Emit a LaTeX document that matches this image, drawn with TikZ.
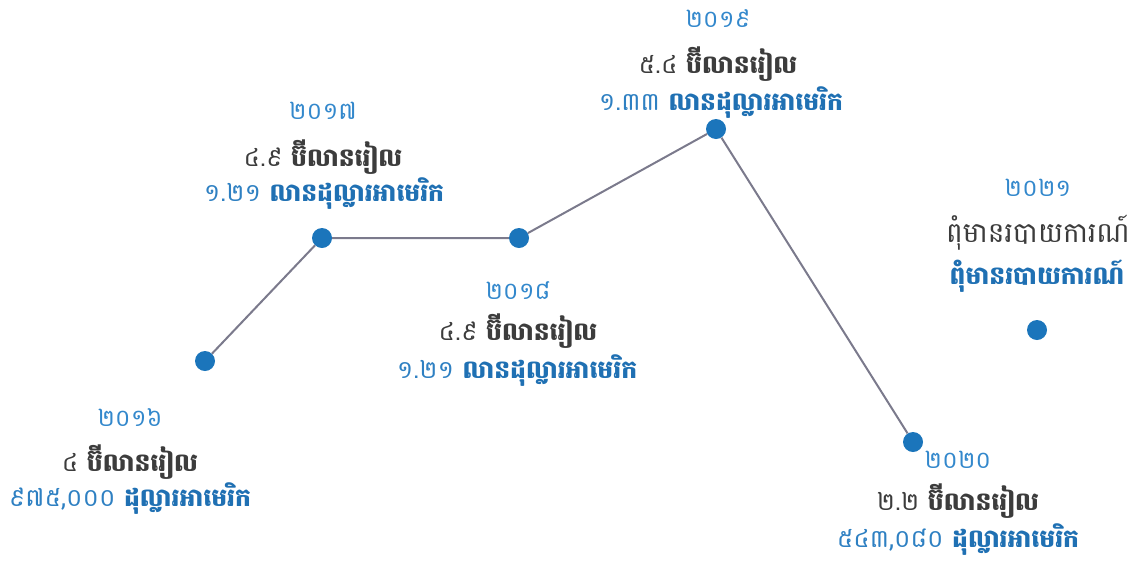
\documentclass[tikz,border=0pt]{standalone}
\usepackage{fontspec}
\newfontfamily\khmer[Script=Khmer]{Battambang}
\usepackage{xcolor}
\definecolor{dotblue}{HTML}{1B75BB}
\definecolor{yearblue}{HTML}{3388CC}
\definecolor{numblue}{HTML}{2E80C2}
\definecolor{wordblue}{HTML}{1F70B3}
\definecolor{txtgray}{HTML}{3C3C3C}
\definecolor{linegray}{HTML}{7B7A8C}

\begin{document}
\begin{tikzpicture}[x=1pt,y=-1pt]
\tikzset{
  dot/.style={circle, fill=dotblue, inner sep=0pt, minimum size=20pt},
  yeartxt/.style={font=\khmer\fontsize{24}{28}\selectfont, text=yearblue, inner sep=0pt},
  rieltxt/.style={font=\khmer\fontsize{25}{30}\selectfont, text=txtgray, inner sep=0pt},
  usdtxt/.style={font=\khmer\fontsize{25}{30}\selectfont, text=numblue, inner sep=0pt},
  link/.style={linegray, line width=2pt}
}
\useasboundingbox (0,0) rectangle (1134,563);

% points
\node [dot] (p16) at (205,361) {};
\node [dot] (p17) at (322,238) {};
\node [dot] (p18) at (519,238) {};
\node [dot] (p19) at (716,129) {};
\node [dot] (p20) at (913,442) {};
\node [dot] (p21) at (1037,330) {};

\draw [link] (p16) -- (p17) -- (p18) -- (p19) -- (p20);

% 2016
\node [yeartxt] (y16) at (130,418) {២០១៦};
\node [rieltxt] (r16) at (130,462) {៤ {\bfseries ប៊ីលានរៀល}};
\node [usdtxt]  (u16) at (130,499) {៩៧៥,០០០ {\bfseries\color{wordblue}ដុល្លារអាមេរិក}};

% 2017
\node [yeartxt] (y17) at (323,111) {២០១៧};
\node [rieltxt] (r17) at (323,157) {៤.៩ {\bfseries ប៊ីលានរៀល}};
\node [usdtxt]  (u17) at (324,194) {១.២១ {\bfseries\color{wordblue}លានដុល្លារអាមេរិក}};

% 2018
\node [yeartxt] (y18) at (518,291) {២០១៨};
\node [rieltxt] (r18) at (518,331) {៤.៩ {\bfseries ប៊ីលានរៀល}};
\node [usdtxt]  (u18) at (517,371) {១.២១ {\bfseries\color{wordblue}លានដុល្លារអាមេរិក}};

% 2019
\node [yeartxt] (y19) at (718,19) {២០១៩};
\node [rieltxt] (r19) at (718,64) {៥.៤ {\bfseries ប៊ីលានរៀល}};
\node [usdtxt]  (u19) at (721,103) {១.៣៣ {\bfseries\color{wordblue}លានដុល្លារអាមេរិក}};

% 2020
\node [yeartxt] (y20) at (958,460) {២០២០};
\node [rieltxt] (r20) at (958,501) {២.២ {\bfseries ប៊ីលានរៀល}};
\node [usdtxt]  (u20) at (958,540) {៥៤៣,០៨០ {\bfseries\color{wordblue}ដុល្លារអាមេរិក}};

% 2021
\node [yeartxt] (y21) at (1038,188) {២០២១};
\node [rieltxt, font=\khmer\fontsize{28}{32}\selectfont] (r21) at (1038,233) {ពុំមានរបាយការណ៍};
\node [usdtxt]  (u21) at (1037,276) {\bfseries\color{wordblue}ពុំមានរបាយការណ៍};

\end{tikzpicture}
\end{document}
